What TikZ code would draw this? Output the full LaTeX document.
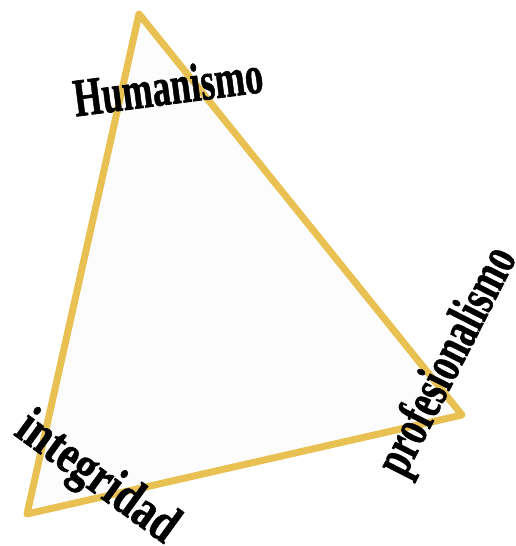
\documentclass[tikz,border=0pt]{standalone}
\usepackage{fontspec}
\setmainfont{Liberation Serif}[BoldFeatures={FakeBold=1.2}]
\usetikzlibrary{positioning}

\begin{document}
\begin{tikzpicture}[
        x=1pt, y=-1pt,
        % Define Styles
        edge/.style={draw=goldline, line width=7pt, line join=round, fill=paper},
        value/.style={font=\bfseries\fontsize{54}{54}\selectfont, inner sep=0pt, text=black}
    ]
    \definecolor{goldline}{HTML}{E8C152}
    \definecolor{paper}{HTML}{FCFCFC}

    \useasboundingbox (0,0) rectangle (516,546);

    % --- CORNERS ---
    \coordinate (top) at (139,14);
    \coordinate (right) at (462,415);
    \coordinate (left) at (27,514);

    \draw[edge] (top) -- (right) -- (left) -- cycle;

    % --- VALUES ---
    \node[value, rotate=7.4] (hum) at (168,86) {\scalebox{0.675}[1]{Humanismo}};
    \node[value, rotate=63] (prof) at (449,362) {\scalebox{0.68}[1]{profesionalismo}};
    \node[value, rotate=-36] (integ) at (96,479) {\scalebox{0.78}[1]{integridad}};

\end{tikzpicture}
\end{document}
